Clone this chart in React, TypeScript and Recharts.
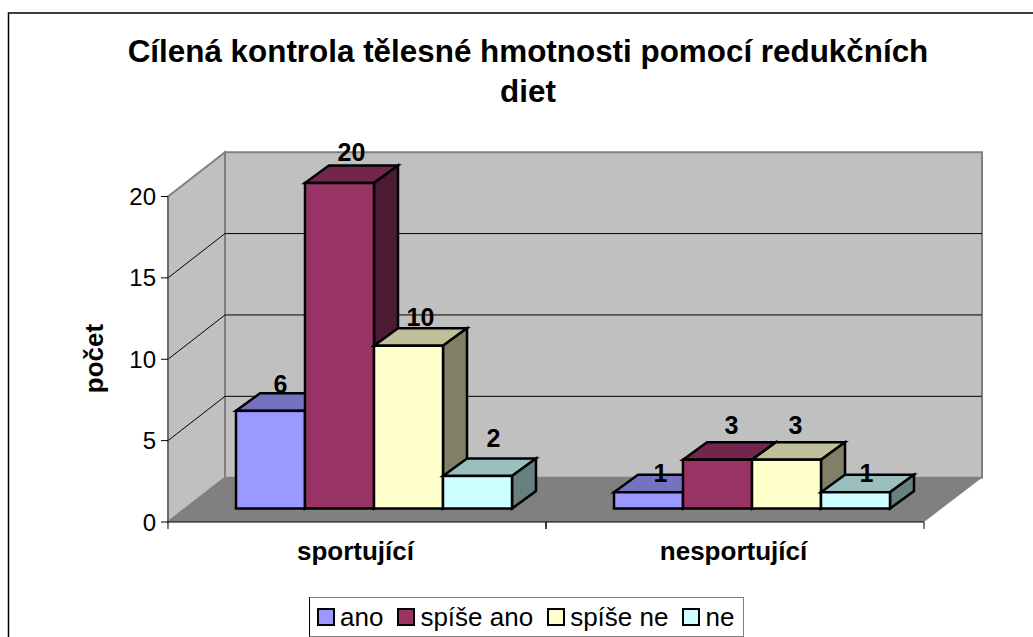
import { BarChart, Bar, XAxis, YAxis, CartesianGrid, LabelList, Legend } from 'recharts'

const categories = ['sportující', 'nesportující']
const seriesNames = ['ano', 'spíše ano', 'spíše ne', 'ne']
const ano = [6, 1]
const spiseAno = [20, 3]
const spiseNe = [10, 3]
const ne = [2, 1]
const yTicks = [0, 5, 10, 15, 20]

const fills = ['#9999ff', '#993366', '#ffffcc', '#ccffff']
const topFills = ['#7373bf', '#73264d', '#bfbf99', '#99bfbf']
const sideFills = ['#4d4d80', '#4d1a33', '#808066', '#668080']

const font = '"Liberation Sans", Arial, sans-serif'

// 3d look: floor and walls sit behind the front plane of the plot
const PLOT = { left: 168, right: 924, top: 196.5, bottom: 522 }
const WALL = { dx: 57, dy: -44.3 }
const BAR_SHIFT = { dx: 17, dy: -13.5 }
const BAR_DEPTH = { dx: 24, dy: -17.5 }

// excel places the data labels a bit unevenly: [dx from bar centre, gap above bar], per series and category
const labelNudge = [
  [[10, 18], [12, 10]],
  [[12, 22], [14, 26]],
  [[12, 20], [9, 26]],
  [[16, 29], [11, 10]],
]

const data = categories.map((name, i) => ({
  name,
  ano: ano[i],
  spiseAno: spiseAno[i],
  spiseNe: spiseNe[i],
  ne: ne[i],
}))

const keys = ['ano', 'spiseAno', 'spiseNe', 'ne']

function pts(list: number[][]) {
  return list.map(p => p.join(',')).join(' ')
}

function Block(props: any) {
  const { x, y, width, height, idx } = props
  const l = x + BAR_SHIFT.dx
  const t = y + BAR_SHIFT.dy
  const r = l + width
  const b = t + height
  const { dx, dy } = BAR_DEPTH
  return (
    <g stroke="#000" strokeWidth={2.5} strokeLinejoin="miter">
      <polygon points={pts([[l, t], [l + dx, t + dy], [r + dx, t + dy], [r, t]])} fill={topFills[idx]} />
      <polygon points={pts([[r, t], [r + dx, t + dy], [r + dx, b + dy], [r, b]])} fill={sideFills[idx]} />
      <rect x={l} y={t} width={width} height={height} fill={fills[idx]} />
    </g>
  )
}

function Walls() {
  const backLeft = PLOT.left + WALL.dx
  const backRight = PLOT.right + WALL.dx + 1
  const backTop = PLOT.top + WALL.dy
  const backBottom = PLOT.bottom + WALL.dy
  return (
    <g>
      <polygon
        points={pts([[PLOT.left, PLOT.top], [backLeft, backTop], [backLeft, backBottom], [PLOT.left, PLOT.bottom]])}
        fill="#c0c0c0"
        stroke="#808080"
        strokeWidth={2}
      />
      <polygon
        points={pts([[backLeft, backTop], [backRight, backTop], [backRight, backBottom], [backLeft, backBottom]])}
        fill="#c0c0c0"
        stroke="#808080"
        strokeWidth={2}
      />
      <polygon
        points={pts([[PLOT.left, PLOT.bottom], [backLeft, backBottom], [backRight, backBottom], [PLOT.right, PLOT.bottom]])}
        fill="#808080"
      />
    </g>
  )
}

// the grid is the lowest layer of the chart, so the walls go in with its first line
function gridLine(props: any) {
  const { x1, y1, x2, index } = props
  const walls = index === 0 ? <Walls /> : null
  const inner = y1 > PLOT.top + 2 && y1 < PLOT.bottom - 2
  return (
    <g key={index}>
      {walls}
      {inner && (
        <polyline
          points={pts([[x1, y1], [x1 + WALL.dx, y1 + WALL.dy], [x2 + WALL.dx + 1, y1 + WALL.dy]])}
          fill="none"
          stroke="#000"
          strokeWidth={1}
        />
      )}
    </g>
  )
}

function CategoryTick(props: any) {
  const { x, y, payload } = props
  const half = (PLOT.right - PLOT.left) / 4
  return (
    <g>
      <line x1={x - half} x2={x - half} y1={y - 8} y2={y - 1} stroke="#000" />
      <line x1={x + half} x2={x + half} y1={y - 8} y2={y - 1} stroke="#000" />
      <text x={x - 1.5} y={y + 30} textAnchor="middle" fontFamily={font} fontSize={26} fontWeight="bold" fill="#000">
        {payload.value}
      </text>
    </g>
  )
}

function barLabel(idx: number) {
  return (props: any) => {
    const { x, y, width, value, index } = props
    const [dx, gap] = labelNudge[idx][index]
    return (
      <text
        x={x + BAR_SHIFT.dx + width / 2 + dx}
        y={y + BAR_SHIFT.dy - gap}
        textAnchor="middle"
        fontFamily={font}
        fontSize={25}
        fontWeight="bold"
        fill="#000"
      >
        {value}
      </text>
    )
  }
}

function LegendBox(props: any) {
  const items = props.payload || []
  return (
    <div
      style={{
        boxSizing: 'border-box',
        width: 435,
        height: 40,
        border: '1px solid #808080',
        borderLeft: '1px solid #000',
        background: '#fff',
        display: 'flex',
        alignItems: 'center',
        paddingLeft: 7,
        fontFamily: font,
        fontSize: 26,
        color: '#000',
        whiteSpace: 'nowrap',
      }}
    >
      {items.map((it: any, i: number) => (
        <div key={i} style={{ display: 'flex', alignItems: 'center', flexShrink: 0, marginRight: 14 }}>
          <span
            style={{
              boxSizing: 'border-box',
              width: 18,
              height: 18,
              marginRight: 5,
              border: '2.5px solid #000',
              background: fills[i],
            }}
          />
          <span>{seriesNames[i]}</span>
        </div>
      ))}
    </div>
  )
}

export default function App() {
  return (
    <div style={{ position: 'absolute', left: 0, top: 0, width: 1033, height: 637, background: '#fff' }}>
      <BarChart
        width={1033}
        height={637}
        data={data}
        barCategoryGap={51}
        barGap={0}
        margin={{ top: PLOT.top, right: 1033 - PLOT.right, bottom: 45, left: 108 }}
      >
        <rect x={8.5} y={13} width={1100} height={700} fill="none" stroke="#000" strokeWidth={1.5} />
        <text x={528} y={62} textAnchor="middle" fontFamily={font} fontSize={31.4} fontWeight="bold" fill="#000">
          Cílená kontrola tělesné hmotnosti pomocí redukčních
        </text>
        <text x={528} y={102} textAnchor="middle" fontFamily={font} fontSize={31.4} fontWeight="bold" fill="#000">
          diet
        </text>
        <text
          transform="translate(102.5,358.5) rotate(-90)"
          textAnchor="middle"
          fontFamily={font}
          fontSize={26}
          fontWeight="bold"
          fill="#000"
        >
          počet
        </text>
        <CartesianGrid vertical={false} horizontal={gridLine} />
        <XAxis
          dataKey="name"
          height={30}
          tickLine={false}
          axisLine={{ stroke: '#000', strokeWidth: 1 }}
          interval={0}
          tick={CategoryTick}
        />
        <YAxis
          width={60}
          domain={[0, 20]}
          ticks={yTicks}
          interval={0}
          tickSize={7}
          tickMargin={5}
          axisLine={{ stroke: '#555', strokeWidth: 1 }}
          tickLine={{ stroke: '#000' }}
          tick={{ fontFamily: font, fontSize: 24, fill: '#000' }}
        />
        <Legend
          content={LegendBox}
          wrapperStyle={{ left: 309, top: 597, bottom: 'auto', width: 435, height: 40 }}
        />
        {keys.map((k, i) => (
          <Bar
            key={k}
            dataKey={k}
            name={seriesNames[i]}
            fill={fills[i]}
            isAnimationActive={false}
            shape={(p: any) => <Block {...p} idx={i} />}
          >
            <LabelList dataKey={k} content={barLabel(i)} />
          </Bar>
        ))}
      </BarChart>
    </div>
  )
}
